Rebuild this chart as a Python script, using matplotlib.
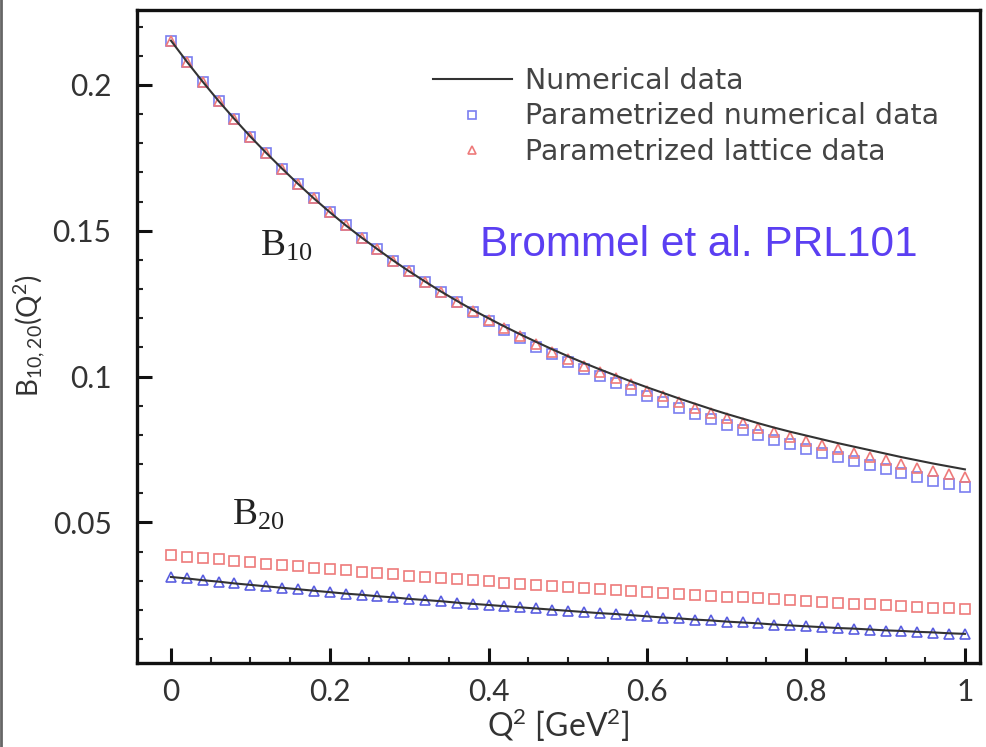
import numpy as np
import matplotlib
matplotlib.use("Agg")
import matplotlib.pyplot as plt
from matplotlib.ticker import MultipleLocator
from matplotlib.lines import Line2D

plt.rcParams['font.family'] = ['Lato', 'DejaVu Sans']
plt.rcParams['mathtext.default'] = 'regular'

# Q^2 grid (GeV^2), markers every 0.02
q2 = np.round(np.arange(51) * 0.02, 2)

# B10 : numerical curve, parametrized numerical (squares), parametrized lattice (triangles)
b10_numerical = [0.2152, 0.2080, 0.2011, 0.1945, 0.1883, 0.1823, 0.1767, 0.1713, 0.1661, 0.1611,
                 0.1564, 0.1519, 0.1477, 0.1437, 0.1398, 0.1361, 0.1326, 0.1292, 0.1260, 0.1229,
                 0.1200, 0.1172, 0.1145, 0.1119, 0.1094, 0.1070, 0.1047, 0.1025, 0.1004, 0.0983,
                 0.0963, 0.0944, 0.0925, 0.0907, 0.0889, 0.0872, 0.0856, 0.0840, 0.0825, 0.0811,
                 0.0798, 0.0785, 0.0772, 0.0760, 0.0748, 0.0736, 0.0724, 0.0713, 0.0702, 0.0692,
                 0.0682]
b10_param_num = [0.2152, 0.2080, 0.2011, 0.1945, 0.1883, 0.1823, 0.1767, 0.1713, 0.1661, 0.1611,
                 0.1564, 0.1519, 0.1477, 0.1437, 0.1398, 0.1361, 0.1325, 0.1289, 0.1255, 0.1222,
                 0.1190, 0.1160, 0.1131, 0.1103, 0.1076, 0.1050, 0.1025, 0.1001, 0.0978, 0.0955,
                 0.0933, 0.0913, 0.0892, 0.0873, 0.0853, 0.0835, 0.0817, 0.0800, 0.0783, 0.0768,
                 0.0753, 0.0738, 0.0723, 0.0710, 0.0696, 0.0682, 0.0668, 0.0656, 0.0643, 0.0632,
                 0.0620]
b10_param_lat = [0.2152, 0.2080, 0.2011, 0.1945, 0.1883, 0.1823, 0.1767, 0.1713, 0.1661, 0.1611,
                 0.1564, 0.1519, 0.1477, 0.1437, 0.1398, 0.1361, 0.1325, 0.1290, 0.1257, 0.1225,
                 0.1194, 0.1166, 0.1138, 0.1112, 0.1086, 0.1062, 0.1038, 0.1016, 0.0994, 0.0973,
                 0.0951, 0.0932, 0.0912, 0.0894, 0.0875, 0.0857, 0.0841, 0.0824, 0.0809, 0.0794,
                 0.0780, 0.0766, 0.0752, 0.0739, 0.0726, 0.0713, 0.0700, 0.0688, 0.0676, 0.0665,
                 0.0656]

# B20 : numerical curve, blue triangles on it, red squares above
b20_numerical = [0.0313, 0.0308, 0.0302, 0.0297, 0.0291, 0.0286, 0.0281, 0.0276, 0.0271, 0.0266,
                 0.0261, 0.0256, 0.0252, 0.0247, 0.0243, 0.0238, 0.0234, 0.0230, 0.0225, 0.0221,
                 0.0217, 0.0213, 0.0209, 0.0205, 0.0201, 0.0197, 0.0193, 0.0189, 0.0186, 0.0182,
                 0.0178, 0.0174, 0.0171, 0.0167, 0.0164, 0.0160, 0.0157, 0.0154, 0.0150, 0.0147,
                 0.0144, 0.0141, 0.0138, 0.0136, 0.0133, 0.0130, 0.0128, 0.0125, 0.0123, 0.0120,
                 0.0118]
b20_triangles = [0.0313, 0.0308, 0.0302, 0.0297, 0.0291, 0.0286, 0.0281, 0.0276, 0.0271, 0.0266,
                 0.0261, 0.0256, 0.0252, 0.0247, 0.0243, 0.0238, 0.0234, 0.0230, 0.0225, 0.0221,
                 0.0217, 0.0213, 0.0209, 0.0205, 0.0201, 0.0197, 0.0193, 0.0189, 0.0186, 0.0182,
                 0.0178, 0.0174, 0.0171, 0.0167, 0.0164, 0.0160, 0.0157, 0.0154, 0.0150, 0.0147,
                 0.0144, 0.0141, 0.0138, 0.0135, 0.0132, 0.0129, 0.0127, 0.0124, 0.0122, 0.0119,
                 0.0116]
b20_squares = [0.0387, 0.0382, 0.0377, 0.0373, 0.0368, 0.0363, 0.0358, 0.0354, 0.0349, 0.0345,
               0.0340, 0.0336, 0.0331, 0.0327, 0.0322, 0.0318, 0.0314, 0.0310, 0.0306, 0.0302,
               0.0298, 0.0294, 0.0290, 0.0287, 0.0283, 0.0279, 0.0276, 0.0272, 0.0269, 0.0265,
               0.0262, 0.0259, 0.0256, 0.0252, 0.0249, 0.0246, 0.0243, 0.0240, 0.0237, 0.0234,
               0.0231, 0.0228, 0.0225, 0.0222, 0.0219, 0.0216, 0.0213, 0.0210, 0.0208, 0.0205,
               0.0202]

blue = '#7a7ef0'
red = '#ee7a7a'
blue_dark = '#5a5ee0'

fig = plt.figure(figsize=(9.87, 7.47), dpi=100)
ax = fig.add_axes([0.1384, 0.1128, 0.8545, 0.8738])

# B10
ax.plot(q2, b10_param_num, ls='none', marker='s', ms=7, mfc='none', mec=blue, mew=1.2,
        label='Parametrized numerical data')
ax.plot(q2, b10_param_lat, ls='none', marker='^', ms=6.5, mfc='none', mec=red, mew=1.2,
        label='Parametrized lattice data')
ax.plot(q2, b10_numerical, color='#333333', lw=1.5, label='Numerical data')

# B20
ax.plot(q2, b20_squares, ls='none', marker='s', ms=7, mfc='none', mec=red, mew=1.2)
ax.plot(q2, b20_triangles, ls='none', marker='^', ms=6.5, mfc='none', mec=blue_dark, mew=1.2)
ax.plot(q2, b20_numerical, color='#333333', lw=1.5)

ax.set_xlim(-0.0433, 1.019)
ax.set_ylim(0.0019, 0.2257)
ax.xaxis.set_major_locator(MultipleLocator(0.2))
ax.xaxis.set_minor_locator(MultipleLocator(0.05))
ax.yaxis.set_major_locator(MultipleLocator(0.05))
ax.yaxis.set_minor_locator(MultipleLocator(0.01))
ax.set_xticks([0, 0.2, 0.4, 0.6, 0.8, 1.0])
ax.set_xticklabels(['0', '0.2', '0.4', '0.6', '0.8', '1'])
ax.set_yticks([0.05, 0.1, 0.15, 0.2])
ax.set_yticklabels(['0.05', '0.1', '0.15', '0.2'])

ax.tick_params(which='major', direction='in', length=11, width=2.2, colors='#111111',
               labelsize=21.5, labelcolor='#333333', top=False, right=False)
ax.tick_params(axis='x', which='major', pad=11)
ax.tick_params(axis='y', which='major', pad=18)
ax.tick_params(which='minor', direction='in', length=4.5, width=1.5, colors='#222222',
               top=False, right=False)
for s in ax.spines.values():
    s.set_linewidth(2.4)
    s.set_color('#111111')

ax.set_xlabel('Q$^2$ [GeV$^2$]', fontsize=23, color='#333333', labelpad=0)
ax.set_ylabel('B$_{10,20}$(Q$^2$)', fontsize=20, color='#333333', labelpad=3)

# curve labels
ax.text(0.112, 0.1448, 'B$_{10}$', fontsize=27, family='Liberation Serif', color='#222222',
        va='center')
ax.text(0.077, 0.0526, 'B$_{20}$', fontsize=27, family='Liberation Serif', color='#222222',
        va='center')
ax.text(0.389, 0.1452, 'Brommel et al. PRL101', fontsize=30.5, family='Liberation Sans',
        color='#5b3ff2', ha='left', va='center')

# legend order: line, squares, triangles
h, l = ax.get_legend_handles_labels()
order = [2, 0, 1]
leg = ax.legend([h[i] for i in order], [l[i] for i in order], loc='upper left',
                bbox_to_anchor=(0.351, 0.913), frameon=False,
                prop={'family': 'DejaVu Sans', 'size': 20.5},
                handlelength=2.8, handletextpad=0.45, labelspacing=0.27, borderpad=0,
                borderaxespad=0, markerscale=0.8)
for t in leg.get_texts():
    t.set_color('#444444')

# thin frame line at the left edge of the picture
fig.add_artist(Line2D([0.0015, 0.0015], [0, 1], transform=fig.transFigure, color='#666666', lw=2))

fig.savefig('out.png', dpi=100)
